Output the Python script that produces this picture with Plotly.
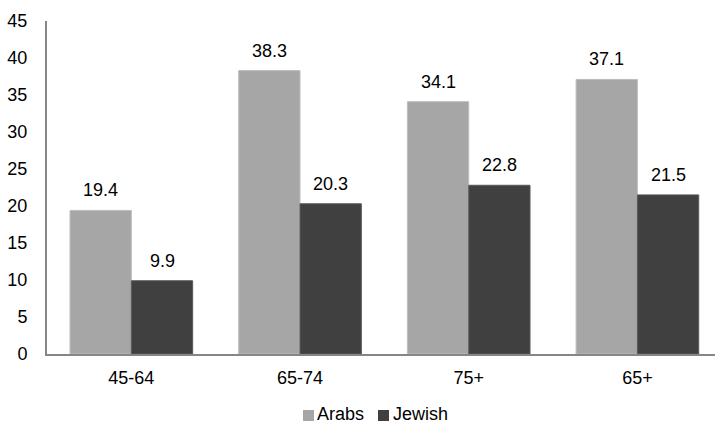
import plotly.graph_objects as go

categories = ["45-64", "65-74", "75+", "65+"]
series_names = ["Arabs", "Jewish"]
arabs = [19.4, 38.3, 34.1, 37.1]
jewish = [9.9, 20.3, 22.8, 21.5]
y_ticks = [0, 5, 10, 15, 20, 25, 30, 35, 40, 45]

colors = ["#A6A6A6", "#404040"]
edges = ["#BDBDBD", "#5A5A5A"]
font_family = "Liberation Sans, Arial, sans-serif"
FS = 18

W, H = 715, 427
ML, MR, MT, MB = 47, 0, 21, 73
PW, PH = W - ML - MR, H - MT - MB


def px_x(p):
    return (p - ML) / PW


def px_y(p):
    return (H - MB - p) / PH


fig = go.Figure()
for name, vals, col, edge in zip(series_names, (arabs, jewish), colors, edges):
    fig.add_trace(go.Bar(
        name=name, x=categories, y=vals,
        marker=dict(color=col, line=dict(color=edge, width=1)),
        showlegend=False,
    ))

# Value labels above each bar
bar_w = (1 - 0.273) / 2
for i, cat in enumerate(categories):
    for offset, vals in ((-bar_w / 2, arabs), (bar_w / 2, jewish)):
        fig.add_annotation(
            x=i + offset, y=vals[i], text=f"{vals[i]}",
            showarrow=False, yanchor="bottom", yshift=8,
            font=dict(size=FS, color="#000000", family=font_family),
        )

# Compact legend below the axis: square swatch followed by the series name
legend_items = [(303, 316), (378, 392)]
for (sq_x, tx_x), name, col in zip(legend_items, series_names, colors):
    fig.add_shape(
        type="rect", xref="paper", yref="paper",
        x0=px_x(sq_x), x1=px_x(sq_x + 11), y0=px_y(421), y1=px_y(410),
        fillcolor=col, line=dict(width=0),
    )
    fig.add_annotation(
        xref="paper", yref="paper", x=px_x(tx_x), y=px_y(414),
        xanchor="left", yanchor="middle", text=name, showarrow=False,
        borderpad=0,
        font=dict(size=FS, color="#000000", family=font_family),
    )

fig.update_layout(
    width=W, height=H,
    margin=dict(l=ML, r=MR, t=MT, b=MB),
    paper_bgcolor="white", plot_bgcolor="white",
    barmode="group", bargap=0.273, bargroupgap=0,
    font=dict(family=font_family, size=FS, color="#000000"),
    showlegend=False,
    xaxis=dict(
        type="category", range=[-0.5, 3.46],
        showline=True, linecolor="#868686", linewidth=2,
        ticks="", showgrid=False, tickfont=dict(size=FS),
        ticklabelstandoff=6,
    ),
    yaxis=dict(
        range=[0, 45], tickvals=y_ticks,
        showline=True, linecolor="#868686", linewidth=2,
        ticks="", showgrid=False, zeroline=False, tickfont=dict(size=FS),
        ticklabelstandoff=14,
    ),
)

fig.write_html("out.html")
